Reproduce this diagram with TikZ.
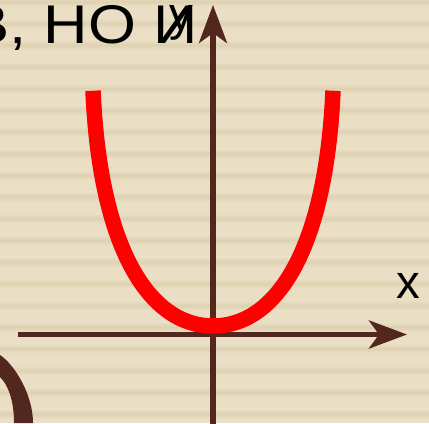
\documentclass[tikz,border=0pt]{standalone}
\usepackage{fontspec}
\usepackage{tikz}
\usetikzlibrary{arrows.meta, positioning, calc}
\newfontfamily\slidefont{Liberation Sans}
\definecolor{PaperLight}{RGB}{234, 223, 197}
\definecolor{PaperBand}{RGB}{222, 209, 178}
\definecolor{AxisBrown}{RGB}{82, 40, 30}
\definecolor{CurveRed}{RGB}{255, 0, 0}

\begin{document}
\begin{tikzpicture}[
  x=0.02cm, y=-0.02cm,
  axis/.style={draw=AxisBrown, line width=0.11cm, -{Stealth[length=0.76cm, width=0.56cm, inset=0.2cm]}},
  curve/.style={draw=CurveRed, line width=0.31cm, line cap=butt},
  heading/.style={font=\slidefont\fontsize{31}{36}\selectfont, text=black, inner sep=0pt, xscale=1.13},
  axlabel/.style={font=\slidefont\fontsize{27}{32}\selectfont, text=black, inner sep=0pt}
]
  \clip (0,0) rectangle (429,423);
  % paper background with soft stripes
  \fill[PaperLight] (0,0) rectangle (429,423);
  \foreach \k in {0,...,19}
    \shade[top color=PaperLight, bottom color=PaperLight, middle color=PaperBand]
      (0,{1.5+21.7*\k-5}) rectangle (429,{1.5+21.7*\k+5});

  % piece of a large letter, bottom left
  \fill[AxisBrown] (0,355) .. controls (15,365) and (33,395) .. (33,423)
    -- (14,423) .. controls (14,400) and (8,385) .. (0,377) -- cycle;

  % heading text, cut at the left edge
  \node[heading, anchor=base west] (heading) at (-32,43) {В, НО И};

  % axes
  \coordinate (xstart) at (18,334.5);
  \coordinate (xend) at (407,334.5);
  \coordinate (ystart) at (213,430);
  \coordinate (yend) at (213,5);
  \draw[axis] (xstart) -- (xend);
  \draw[axis] (ystart) -- (yend);
  \node[axlabel] (xlabel) at (408,285.5) {x};
  \node[axlabel] (ylabel) at (181,23) {y};

  % parabola
  \coordinate (pleft) at (93,90.7);
  \coordinate (vertex) at (213,326);
  \coordinate (pright) at (333,90.7);
  \draw[curve] (pleft) .. controls (100,250) and (150,326) .. (vertex)
    .. controls (276,326) and (326,250) .. (pright);
\end{tikzpicture}
\end{document}
